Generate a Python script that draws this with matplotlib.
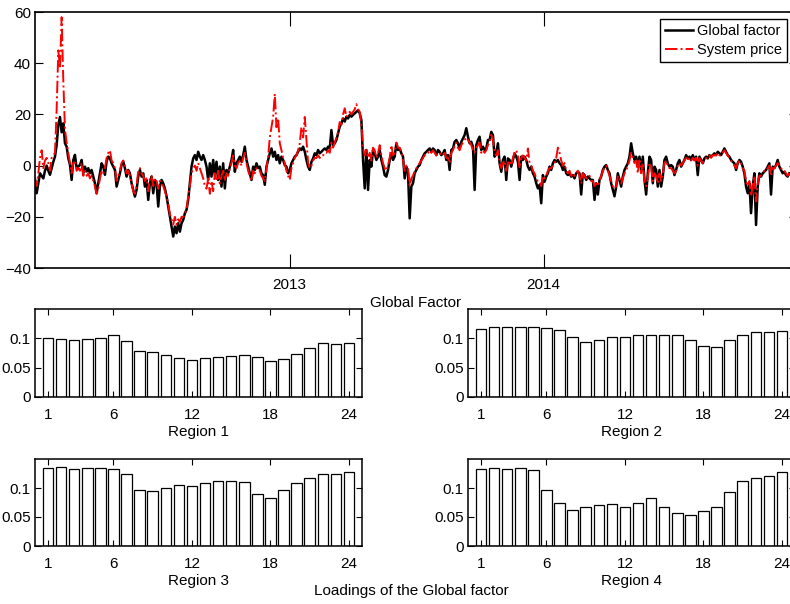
import matplotlib
matplotlib.use('Agg')
import matplotlib.pyplot as plt
import matplotlib.dates as mdates
import numpy as np
import pandas as pd

plt.rcParams['font.family'] = ['Liberation Sans', 'DejaVu Sans']
plt.rcParams['font.size'] = 11

# global factor vs system price (about every 2.4 days)
global_factor = [
    -5.6, -10.8, -7, -3, -4, -5, -2, 0, -2, -3.6,
    -1, 1.5, 3.5, 8, 16, 19, 13, 16.5, 8.7, 7.4,
    2.9, 0.3, -5.6, 2.2, 4.2, -1, -0.4, 0.3, 2.2, -3,
    -0.4, -2.3, -1, -3, -1.7, -4.3, -6.9, -10.8, -6.9, -3,
    0.9, -0.4, -3.6, 1.6, 3.5, 2.9, 0.9, -0.4, -1.7, -8.2,
    -5.6, -3, 0.3, 1.6, -1, -4.3, -1.7, -3, -6.9, -9.5,
    -12.1, -9.5, -4.3, -1.7, -4.3, -3, -8.2, -5.6, -13.4, -6.9,
    -4.3, -10.8, -5.6, -6.9, -16, -8.2, -5.6, -6.9, -8.9, -12,
    -16, -20, -23.8, -27.7, -23.8, -26.4, -22.5, -25.8, -22.5, -21.2,
    -18.6, -17.3, -13.4,
    -6.9, -0.4, 2.8, 4.1, 2.2, 5.4, 3.5, 2.2, 4.1, 2.2,
    -0.4, -5.6, 0.9, -4.3, 2.2, -3.7, 1.5, -5.6, -0.4, -8.2,
    0.9, -8.9, -1.7, -3, -0.4, 2.2, 6.1, -2.4, 0.9, 2.2,
    3.5, 1.5, 4.1, 7.4, 2.2, -0.4, -3, -5.6, -0.4, -1.7,
    0.9, -1, -0.4, -3, -3.7, -7.5, -0.4, 2.2, 4.8, 6.7,
    3.5, 5.4, 2.2, 4.1, 0.9, 3.5, 2.2, 0.2, -0.4, -3,
    -1.7, 0.9, 2.2, 3.5, 4.1, 5.4, 6.7, 6.1, 7.4, 5.4,
    2.2, -0.4, -1.7, 1.5, 2.8, 4.8, 4.1, 6.1, 4.8, 5.4,
    6.1, 6.7, 6.1, 7.4, 6.7, 13.9, 8, 8.7, 10, 12.6,
    15.2, 16.5, 18.4, 17.2, 19.1, 18.4, 19.8, 19.1, 19.8, 20.4,
    21, 21.7, 20.4, 17.8, 2.2, -8.9, 6.1, -9.5, 2.2, -0.4,
    6.1, 4.8, 2.2, 3.5, 6.1, 2.2, -0.4, -3.7, -4.3, -1.7,
    2.2, 4.8, 2.2, 3.5, 8.7, 6.1, 6.7, 4.8, 3.5, -5,
    -0.4, -3, -20.6, -8.2, -6.9, -3, -1.7, -0.4, 0.2, 2.2,
    3.5, 4.8, 5.4, 6.1, 6.7, 5.4, 6.7, 6.1, 4.1, 6.1,
    5.4, 4.1, 4.8, 6.1, 2.2, 4.1, -1.7, 6.1, 6.7, 9.3,
    10, 8.7, 6.7, 9.3, 10.6, 11.9, 14.6, 11.3, 8.7, 9.3,
    7.4, -9.5, 8, 10, 11.3, 6.1, 7.4, 6.1, 6.7, 10,
    10, 13.2, 11.9, 3.5, 4.8, 8.7, 0.9, -2.4, 2.2, 3.5,
    -5.6, 2.8, 2.2, -0.4, 2.2, 4.8, 3.5, 1.5, -5.6, 3.5,
    2.2, 3.5, 2.2, -0.4, -1.7, -0.4, -3, -4.3, -6.9, -8.9,
    -7.5, -14.7, -3.7, -6.3, -4.3, -3, -0.4, -1.7, 0.9, 2.2,
    1.5, 2.2, 0.9, 0.2, -1.7, -0.4, -3, -3.7, -3, -4.3,
    -3.7, -5, -3, -2.4, -3, -11.3, -3, -3.7, -5.6, -4.3,
    -5, -5.6, -5.6, -13.4, -6.9, -11.3, -5.6, -4.3, -1.7, -0.4,
    0.2, -1.7, -3, -6.9, -9.5, -12, -8.2, -3, -5.6, -8.2,
    -4.3, -1.7, -0.4, 0.9, 3.5, 8.7, 4.8, 2.2, 3.5, -0.4,
    3.5, -1.7, 3.5, -5.6, -11.3, -3, 3.5, 2.2, -6.9, -0.4,
    -1.7, -8.2, -1.7, -8.2, -4.3, 2.2, 3.5, 0.9, -0.4, 0.2,
    -0.4, -3.7, -1.7, 0.9, 2.2, -0.4, 0.9, 2.2, 4.1, 2.8,
    3.5, 2.2, 4.1, 2.2, 3.5, -3.7, 3.5, 2.2, 0.9, 2.8,
    3.5, 2.8, 4.1, 3.5, 4.1, 4.8, 4.1, 5.4, 4.8, 4.1,
    5.4, 6.7, 5.4, 4.1, 3.5, 2.2, 1.5, 0.9, -1.7, 0.9,
    2.2, 1.5, -0.4, -3, -8.2, -10.8, -6.9, -18.6, -8.2, -3,
    -23.2, -8.2, -3, -4.3, -3, -2.4, -1.7, -0.4, 0.9, -11.3,
    -0.4, -1, 0.2, 2.2, -0.4, -1.7, -3, -2.4, -3.7, -4.3, -3,
]

system_price = [
    -5, -8, -3, 3, 6, -1, 2, 3, 1, -2,
    3, 4, 5, 22, 45, 38, 58, 33, 14, 9,
    4.8, 1, -3, 1, 2, -2, -1, -2, 1, -4,
    -2, -4, -3, -5, -4, -6, -8, -11, -9, -5,
    -2, -3, -1, 3, 5, 6, 2, 1, -1, -6,
    -4, -2, 1, 2, 0, -3, -2, -4, -7, -10,
    -11, -8, -2, -1, -3, -4, -6, -5, -10, -5,
    -4, -8, -5, -6, -9, -6, -7, -8, -10, -12,
    -15, -19, -21, -23, -20, -23, -21, -22, -20, -20,
    -19, -17, -12,
    -8, -3, -1, 0, -2, 1, -1, -3, -5, -8,
    -9, -5, -11, -6, -10, -3, -6, -2, -7, -4,
    -2, -6, -3, -4, -1, 1, 4, 0, -1, 1,
    2, 0, 3, 5, 1, -2, -4, -6, -2, -3,
    -1, -2, -2, -4, -5, -6, -1, 3.5, 11, 15,
    19, 28, 15, 18.5, 8.7, 6, 3, 1, -2, -4,
    -5.6, -1, 1, 3, 4, 6, 8.7, 15, 11, 19,
    10, 1, -1, 0, 2, 3, 3, 4, 3, 4,
    4, 5, 5, 6, 5, 9, 7, 9, 11, 13,
    17, 16, 20, 22.4, 19, 20, 21, 20, 21, 22,
    24, 22, 21, 16, 7, 4, 6, 3, 5, 2,
    7, 6, 3, 5, 8, 4, 1, -1, -2, 0,
    3, 8, 4, 5, 9, 7, 7, 5, 2, -2,
    0, -1, -8, -5, -4, -2, -1, 0, 1, 2,
    3, 4, 5, 5, 6, 5, 6, 5, 4, 5,
    5, 4, 4, 5, 3, 3, 1, 5, 6, 8,
    9, 7, 6, 8, 9, 10, 11, 10, 9, 8,
    6, 5, 7, 8, 9, 5, 6, 5, 6, 8,
    9, 12, 10, 5, 4, 6, 1, -1, 1, 2,
    -2, 1, 2, 0, 3, 5, 6, 4, -1, 3,
    4, 3, 2, 6.7, 1, 0, -2, -3, -5, -6,
    -6, -8, -4, -5, -4, -2, -1, -1, 0, 1,
    3, 7, 5, 2, 0, 1, -2, -3, -2, -4,
    -3, -4, -3, -2, -4, -7, -3, -4, -5, -5,
    -4, -6, -6, -8, -7, -8, -6, -4, -2, -1,
    0, -2, -4, -6, -8, -9, -8, -4, -5, -7,
    -5, -3, -2, 0, 2, 5, 3, 1, 2, -3,
    2, -3, 1, -6, -8, -5, 1, 0, -6, -3,
    -4, -7, -3, -6, -3, 1, 2, 0, -1, -1,
    -2, -3, -2, 0, 1, 0, 1, 2, 3, 2,
    3, 2, 3, 2, 3, 0, 3, 2, 1, 2,
    3, 3, 4, 3, 4, 4, 4, 5, 4, 4,
    5, 6, 5, 4, 3, 2, 1, 0, -1, 1,
    2, 1, -1, -2, -6, -8, -6, -12, -8, -4,
    -14, -7, -4, -4, -3, -2, -2, -1, 0, -4,
    -1, -1, 0, 1, 0, -1, -2, -2, -3, -4, -3,
]

hours = np.arange(1, 25)
region_names = ['Region 1', 'Region 2', 'Region 3', 'Region 4']
loadings_r1 = [0.100, 0.099, 0.098, 0.099, 0.101, 0.105, 0.096, 0.079, 0.076, 0.072,
               0.067, 0.063, 0.066, 0.068, 0.070, 0.072, 0.068, 0.062, 0.065, 0.073,
               0.084, 0.092, 0.090, 0.092]
loadings_r2 = [0.116, 0.119, 0.119, 0.120, 0.120, 0.118, 0.115, 0.103, 0.094, 0.098,
               0.102, 0.103, 0.105, 0.106, 0.106, 0.105, 0.098, 0.087, 0.086, 0.097,
               0.106, 0.111, 0.111, 0.112]
loadings_r3 = [0.134, 0.136, 0.133, 0.134, 0.134, 0.132, 0.125, 0.097, 0.095, 0.100,
               0.106, 0.104, 0.108, 0.112, 0.112, 0.110, 0.090, 0.083, 0.097, 0.108,
               0.118, 0.125, 0.125, 0.128]
loadings_r4 = [0.133, 0.135, 0.132, 0.134, 0.131, 0.096, 0.075, 0.062, 0.067, 0.071,
               0.073, 0.068, 0.074, 0.082, 0.067, 0.057, 0.054, 0.060, 0.067, 0.093,
               0.112, 0.117, 0.120, 0.127]

W, H = 790, 604


def px(left, top, right, bottom):
    return [left / W, 1 - bottom / H, (right - left) / W, (bottom - top) / H]


def main():
    fig = plt.figure(figsize=(W / 100, H / 100), dpi=100)

    ax = fig.add_axes(px(35, 12, 797, 268))
    dates = pd.date_range('2012-01-01', '2014-12-20', periods=len(global_factor))
    ax.plot(dates, global_factor, color='k', lw=1.8, label='Global factor')
    ax.plot(dates, system_price, color='r', ls='-.', lw=1.4, label='System price')
    ax.set_xlim(pd.Timestamp('2012-01-01'), pd.Timestamp('2014-12-31'))
    ax.set_ylim(-40, 60)
    ax.set_yticks([-40, -20, 0, 20, 40, 60])
    ax.set_xticks([pd.Timestamp('2013-01-01'), pd.Timestamp('2014-01-01')])
    ax.xaxis.set_major_formatter(mdates.DateFormatter('%Y'))
    ax.tick_params(direction='in', top=True, right=True, width=0.8)
    ax.tick_params(axis='x', length=10, pad=7)
    ax.tick_params(axis='y', length=6, pad=3)
    for s in ax.spines.values():
        s.set_linewidth(1.2)
    ax.set_xlabel('Global Factor', labelpad=3)
    # the original legend runs off the right edge; keep it inside the picture
    leg = ax.legend(loc='upper right', bbox_to_anchor=(787 / W, 1 - 19 / H),
                    bbox_transform=fig.transFigure, borderaxespad=0,
                    fancybox=False, framealpha=1, edgecolor='k',
                    handlelength=1.9, handletextpad=0.3, borderpad=0.35,
                    labelspacing=0.35, fontsize=10.5)
    leg.get_frame().set_linewidth(1.0)

    boxes = [(35, 309, 362, 397), (468, 309, 795, 397),
             (35, 459, 362, 546), (468, 459, 795, 546)]
    loadings = [loadings_r1, loadings_r2, loadings_r3, loadings_r4]
    for box, vals, name in zip(boxes, loadings, region_names):
        bx = fig.add_axes(px(*box))
        bx.bar(hours, vals, width=0.8, color='white', edgecolor='k', linewidth=0.9)
        bx.set_xlim(0, 25)
        bx.set_ylim(0, 0.15)
        bx.set_xticks([1, 6, 12, 18, 24])
        bx.set_yticks([0, 0.05, 0.1])
        bx.set_yticklabels(['0', '0.05', '0.1'])
        bx.tick_params(direction='in', top=True, right=True, width=0.8, length=4)
        bx.tick_params(axis='x', pad=8)
        bx.tick_params(axis='y', pad=3)
        for s in bx.spines.values():
            s.set_linewidth(1.1)
        bx.set_xlabel(name, labelpad=2)

    fig.text(411 / W, 1 - 591 / H, 'Loadings of the Global factor',
             ha='center', va='center')

    fig.savefig('out.png', dpi=100)


if __name__ == '__main__':
    main()
